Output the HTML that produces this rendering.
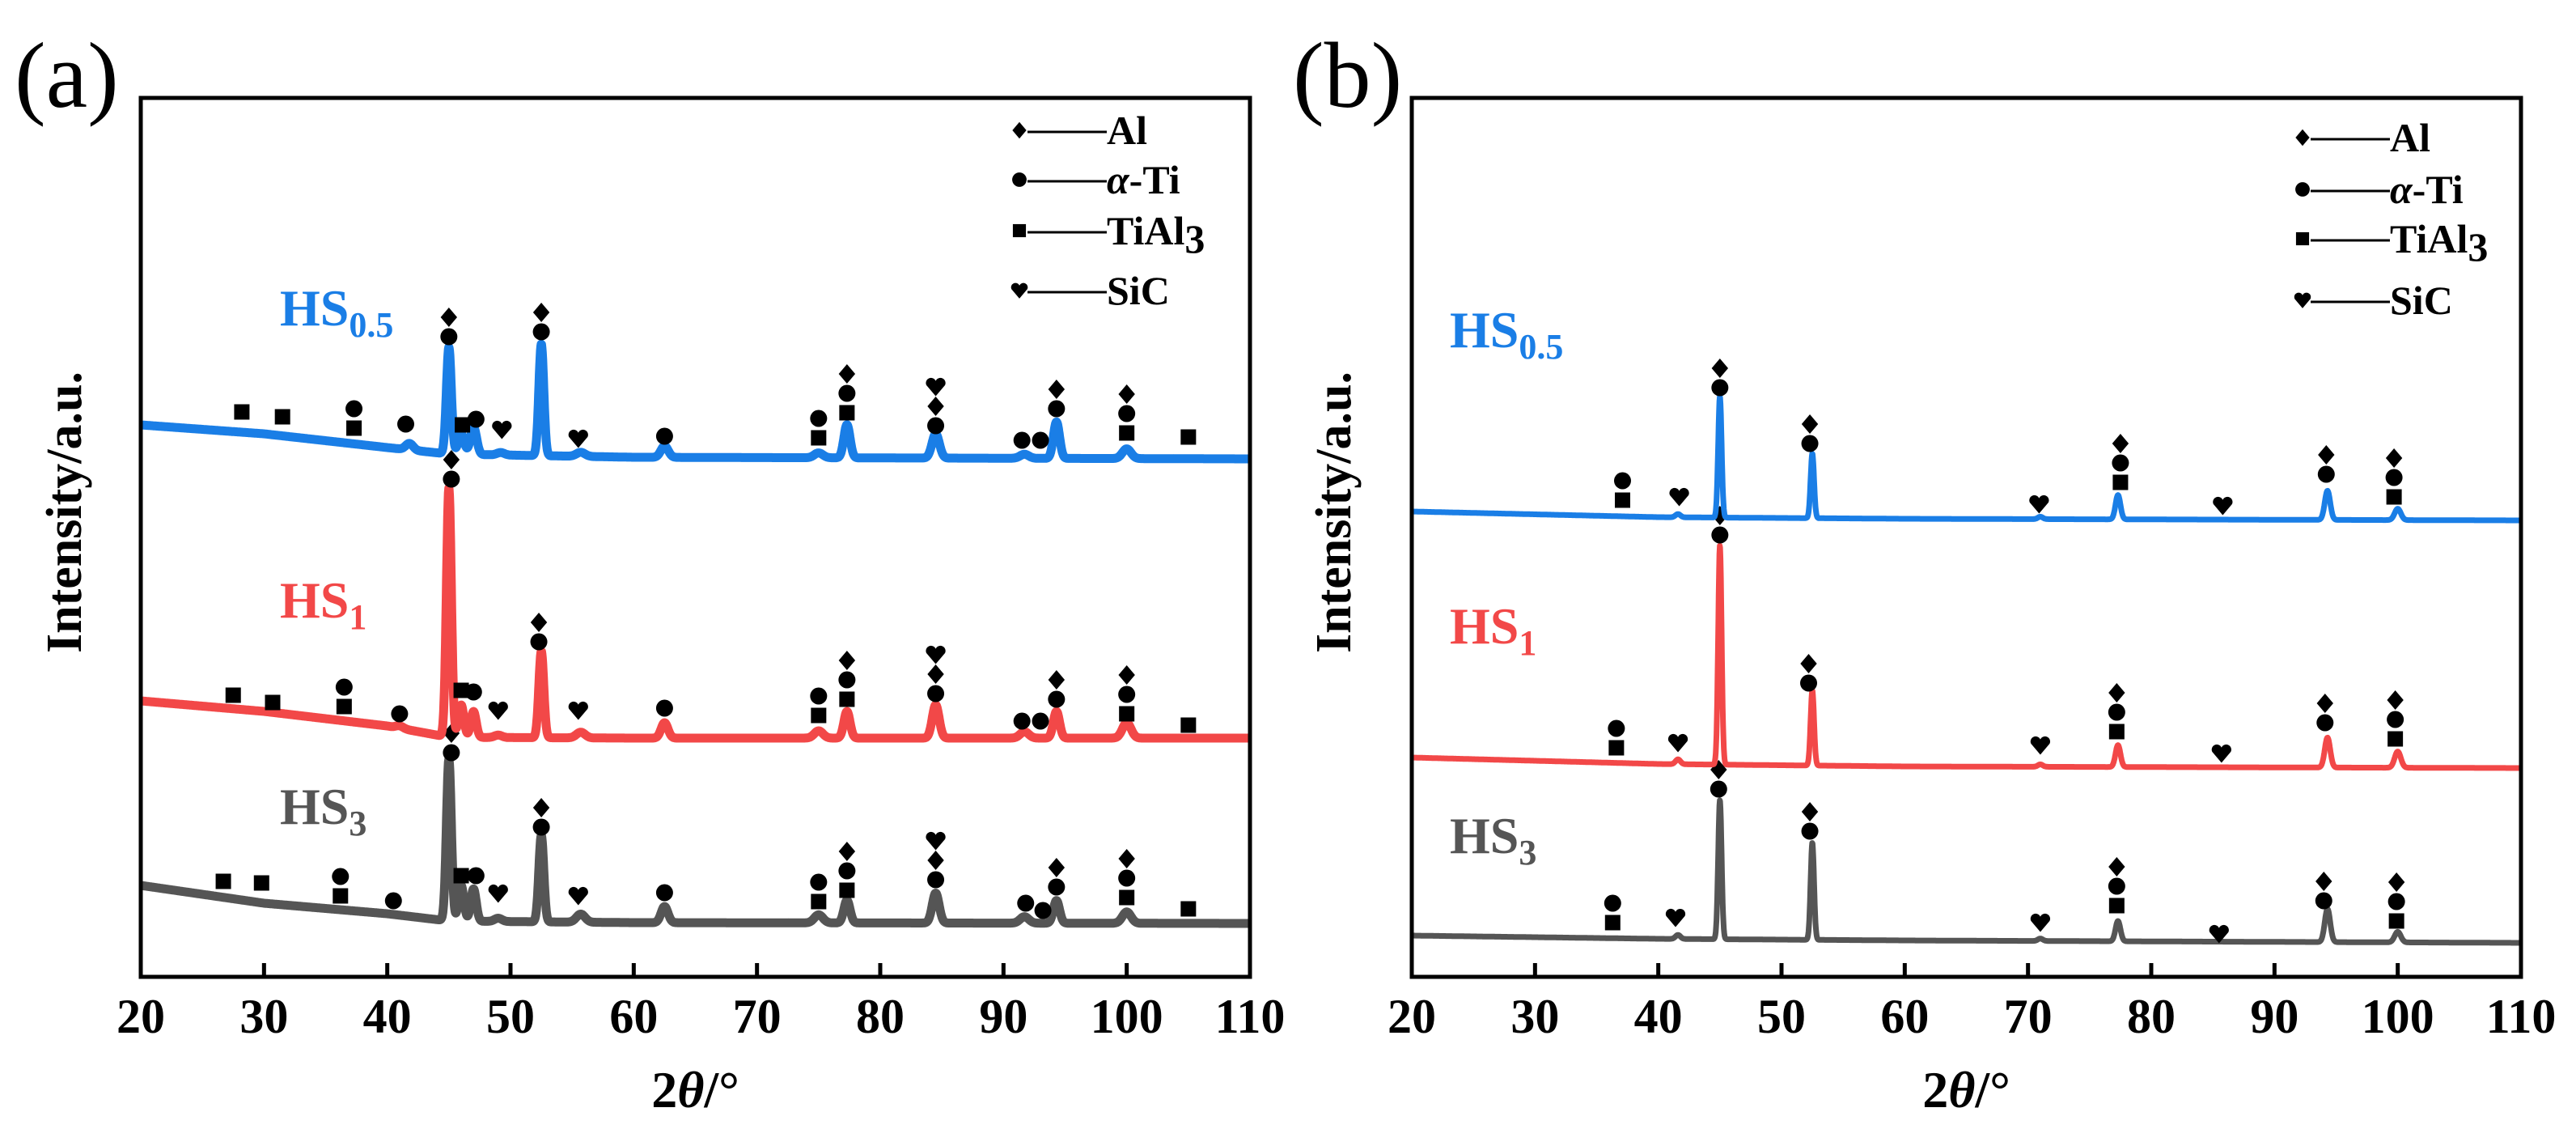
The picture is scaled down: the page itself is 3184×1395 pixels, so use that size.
<!DOCTYPE html>
<html><head><meta charset="utf-8">
<style>
html,body{margin:0;padding:0;background:#fff;}
svg{display:block;font-family:"Liberation Serif","DejaVu Serif",serif;}
</style></head>
<body>
<svg id="fig" width="3184" height="1395" viewBox="0 0 3184 1395" xmlns="http://www.w3.org/2000/svg"></svg>
<script>
// ---------- data ----------
const xTicks = [20,30,40,50,60,70,80,90,100,110];
const seriesNames = ["HS0.5","HS1","HS3"];
const seriesColors = ["#1a7ee6","#f24848","#555555"];

// panel (a) baselines: [2theta, intensity]
const aBaseBlue = [[20,682],[30,671],[40,654],[45,646],[60,642],[110,640]];
const aBaseRed  = [[20,341],[30,328],[40,310],[45,296],[60,295],[110,295]];
const aBaseGray = [[20,113],[30,91],[40,78],[45,69],[60,67],[110,66]];
// panel (a) peaks: [2theta, height, width]
const aPeaksBlue = [[41.8,8,0.3],[45.0,132,0.2],[46.0,25,0.25],[47.0,34,0.25],[49.2,3,0.3],[52.5,138,0.2],[55.7,5,0.35],[62.5,14,0.3],[75.0,6,0.35],[77.3,41,0.25],[84.5,30,0.3],[91.7,5,0.35],[94.3,45,0.25],[100.0,12,0.35]];
const aPeaksRed  = [[41.0,3,0.3],[45.0,308,0.2],[46.0,40,0.22],[47.0,32,0.22],[49.0,3,0.3],[52.5,107,0.2],[55.7,7,0.35],[62.5,19,0.28],[75.0,9,0.35],[77.3,33,0.25],[84.5,41,0.28],[91.7,8,0.35],[94.3,33,0.25],[100.0,19,0.35]];
const aPeaksGray = [[45.0,200,0.2],[46.0,44,0.22],[47.0,40,0.22],[49.0,4,0.3],[52.5,107,0.2],[55.7,10,0.35],[62.5,20,0.28],[75.0,10,0.35],[77.3,28,0.25],[84.5,37,0.28],[91.7,8,0.35],[94.3,28,0.25],[100.0,14,0.35]];

// panel (b)
const bBaseBlue = [[20,575],[40,568],[60,566],[110,564]];
const bBaseRed  = [[20,271],[40,263],[60,260],[110,258]];
const bBaseGray = [[20,51],[40,47],[60,45],[110,42]];
const bPeaksBlue = [[41.6,4,0.2],[45.0,150,0.14],[52.5,80,0.14],[71.0,3,0.2],[77.3,30,0.2],[94.3,36,0.22],[100.0,14,0.25]];
const bPeaksRed  = [[41.6,6,0.2],[45.0,271,0.14],[52.5,93,0.14],[71.0,3,0.2],[77.3,27,0.2],[94.3,37,0.22],[100.0,20,0.25]];
const bPeaksGray = [[41.6,5,0.2],[45.0,172,0.14],[52.5,120,0.14],[71.0,3,0.2],[77.3,25,0.2],[94.3,41,0.22],[100.0,13,0.25]];

// annotations: [2theta, symbols top->bottom (D=Al, C=α-Ti, S=TiAl3, H=SiC), intensity of bottom symbol]
const aMarksBlue = [[28.2,"S",698],[31.5,"S",692],[37.3,"CS",678],[41.5,"C",683],[45.0,"DC",791],[46.1,"S",682],[47.2,"C",689],[49.3,"H",676],[52.5,"DC",797],[55.5,"H",665],[62.5,"C",668],[75.0,"CS",666],[77.3,"DCS",697],[84.5,"HDC",681],[91.5,"C",663],[93.0,"C",663],[94.3,"DC",702],[100.0,"DCS",672],[105.0,"S",667]];
const aMarksRed  = [[27.5,"S",348],[30.7,"S",339],[36.5,"CS",334],[41.0,"C",325],[45.2,"DC",615],[46.0,"S",354],[47.0,"C",352],[49.0,"H",329],[52.3,"DC",414],[55.5,"H",329],[62.5,"C",332],[75.0,"CS",323],[77.3,"DCS",343],[84.5,"HDC",350],[91.5,"C",316],[93.0,"C",316],[94.3,"DC",343],[100.0,"DCS",325],[105.0,"S",311]];
const aMarksGray = [[26.7,"S",118],[29.8,"S",116],[36.2,"CS",100],[40.5,"C",94],[45.2,"DC",277],[46.0,"S",125],[47.2,"C",125],[49.0,"H",103],[52.5,"DC",185],[55.5,"H",100],[62.5,"C",104],[75.0,"CS",93],[77.3,"DCS",107],[84.5,"HDC",120],[91.8,"C",91],[93.2,"C",82],[94.3,"DC",111],[100.0,"DCS",98],[105.0,"S",84]];
const bMarksBlue = [[37.1,"CS",589],[41.7,"H",593],[45.0,"DC",728],[52.3,"DC",659],[70.9,"H",584],[77.5,"DCS",611],[85.8,"H",582],[94.2,"DC",621],[99.7,"DCS",593]];
const bMarksRed  = [[36.6,"CS",283],[41.6,"H",289],[45.0,"DC",546],[52.2,"DC",363],[71.0,"H",286],[77.2,"DCS",303],[85.7,"H",276],[94.1,"DC",314],[99.8,"DCS",294]];
const bMarksGray = [[36.3,"CS",67],[41.4,"H",73],[44.9,"DC",232],[52.3,"DC",180],[71.0,"H",67],[77.2,"DCS",88],[85.5,"H",53],[94.0,"DC",94],[99.9,"DCS",69]];

const legendLabels = ["Al","α-Ti","TiAl","SiC"];
const legendSymbols = ["D","C","S","H"];

// ---------- drawing ----------
const NS="http://www.w3.org/2000/svg";
const svg=document.getElementById('fig');
function el(tag,attrs,parent){const e=document.createElementNS(NS,tag);for(const k in attrs)e.setAttribute(k,attrs[k]);(parent||svg).appendChild(e);return e;}

function makePanel(p){
  const L=p.left,R=p.left+1371,T=121,B=1207;
  const g=el('g',{});
  
  
  const xs=v=>L+(v-20)/90*(R-L);
  const ys=v=>B-v;
  function interp(base,x){for(let i=0;i<base.length-1;i++){if(x<=base[i+1][0]){const t=(x-base[i][0])/(base[i+1][0]-base[i][0]);return base[i][1]+t*(base[i+1][1]-base[i][1]);}}return base[base.length-1][1];}
  function val(base,peaks,x){let v=interp(base,x);for(const pk of peaks){const d=(x-pk[0])/pk[2];v+=pk[1]*Math.exp(-0.5*d*d);}return v;}
  // series
  for(let s=2;s>=0;s--){
    const base=p.bases[s],peaks=p.peaks[s];
    let d="";
    for(let x=20;x<=110.0001;x+=0.03){d+=(d?"L":"M")+xs(x).toFixed(1)+","+ys(val(base,peaks,x)).toFixed(1);}
    const path=el('path',{d:d,fill:'none',stroke:seriesColors[s],'stroke-width':p.lw,'stroke-linejoin':'round'},g);
    
    
    // markers
    for(const m of p.marks[s]){
      const n=m[1].length;
      for(let k=0;k<n;k++){
        const cy=ys(m[2]+(n-1-k)*24);
        const sym=drawSym(m[1][k],xs(m[0]),cy,g,1);
        
        
      }
    }
  }
  // series labels
  const lbls=[["HS","0.5"],["HS","1"],["HS","3"]];
  for(let s=0;s<3;s++){
    const t=el('text',{x:p.labelX,y:p.labelY[s],'font-size':64,'font-weight':'bold',fill:seriesColors[s]},g);
    
    
    t.textContent=lbls[s][0];
    const sub=el('tspan',{'font-size':44,dy:14},t);sub.textContent=lbls[s][1];
  }
  // frame
  const fr=el('rect',{x:L,y:T,width:R-L,height:B-T,fill:'none',stroke:'#000','stroke-width':5},g);
  
  
  for(const t of xTicks){
    const tk=el('line',{x1:xs(t),x2:xs(t),y1:B,y2:B-17,stroke:'#000','stroke-width':5},g);
    
    
    const tl=el('text',{x:xs(t),y:1276,'font-size':60,'font-weight':'bold','text-anchor':'middle'},g);
    
    
    tl.textContent=t;
  }
  // axis titles
  const xt=el('text',{x:(L+R)/2,y:1368,'font-size':64,'font-weight':'bold','text-anchor':'middle'},g);
  
  
  xt.textContent='2';
  const th=el('tspan',{'font-style':'italic'},xt);th.textContent='θ';
  const rest=el('tspan',{},xt);rest.textContent='/°';
  const yt=el('text',{x:0,y:0,'font-size':62,'font-weight':'bold','text-anchor':'middle',transform:`translate(${p.yTitleX},633) rotate(-90)`},g);
  
  
  yt.textContent='Intensity/a.u.';
  // panel label
  const pl=el('text',{x:p.tagX,y:132,'font-size':116},g);
  
  
  pl.textContent=p.tag;
  // legend
  for(let i=0;i<4;i++){
    const y=p.legY[i];
    const lg=el('g',{},g);
    
    
    drawSym(legendSymbols[i],p.legX,y,lg,0.85);
    el('line',{x1:p.legX+10,x2:p.legX+108,y1:y+2,y2:y+2,stroke:'#000','stroke-width':3},lg);
    const t=el('text',{x:p.legX+108,y:y+17,'font-size':50,'font-weight':'bold'},lg);
    if(i===1){const a=el('tspan',{'font-style':'italic'},t);a.textContent='α';const b=el('tspan',{},t);b.textContent='-Ti';}
    else if(i===2){t.textContent='TiAl';const sb=el('tspan',{'font-size':50,dy:10},t);sb.textContent='3';}
    else t.textContent=legendLabels[i];
  }
}
function drawSym(c,x,y,parent,sc){
  let e;
  if(c==='D'){const r=12*sc;e=el('polygon',{points:`${x},${y-r} ${x+r*0.85},${y} ${x},${y+r} ${x-r*0.85},${y}`,fill:'#000'},parent);}
  else if(c==='C'){e=el('circle',{cx:x,cy:y,r:10.5*sc,fill:'#000'},parent);}
  else if(c==='S'){const h=9.5*sc;e=el('rect',{x:x-h,y:y-h,width:2*h,height:2*h,fill:'#000'},parent);}
  else {const r=10.5*sc;e=el('path',{d:`M${x},${y+r*1.1} L${x-r*1.1},${y-r*0.2} A${r*0.58},${r*0.58} 0 0 1 ${x},${y-r*0.7} A${r*0.58},${r*0.58} 0 0 1 ${x+r*1.1},${y-r*0.2} Z`,fill:'#000'},parent);}
  return e;
}

makePanel({name:'panel-a',left:174,tag:'(a)',tagX:18,yTitleX:100,labelX:346,labelY:[402,763,1018],lw:11,
  bases:[aBaseBlue,aBaseRed,aBaseGray],peaks:[aPeaksBlue,aPeaksRed,aPeaksGray],marks:[aMarksBlue,aMarksRed,aMarksGray],
  legX:1260,legY:[161,222,285,359]});
makePanel({name:'panel-b',left:1745,tag:'(b)',tagX:1598,yTitleX:1669,labelX:1792,labelY:[429,795,1054],lw:7,
  bases:[bBaseBlue,bBaseRed,bBaseGray],peaks:[bPeaksBlue,bPeaksRed,bPeaksGray],marks:[bMarksBlue,bMarksRed,bMarksGray],
  legX:2846,legY:[170,234,295,371]});
</script>
</body></html>
